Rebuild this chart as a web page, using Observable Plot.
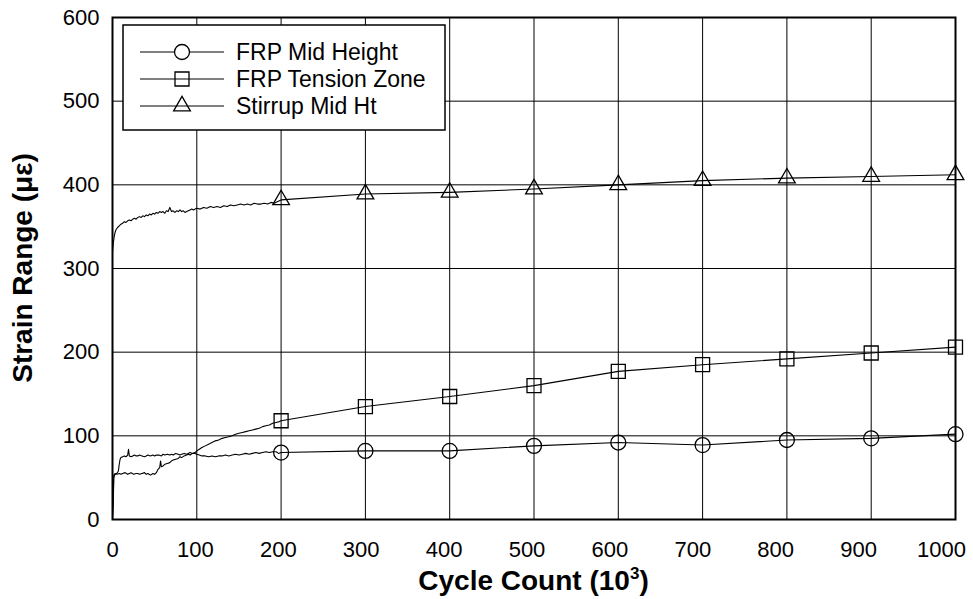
<!DOCTYPE html>
<html><head><meta charset="utf-8">
<script src="https://cdn.jsdelivr.net/npm/d3@7"></script>
<script src="https://cdn.jsdelivr.net/npm/@observablehq/plot@0.6"></script>
<style>body{margin:0;background:#fff} svg{display:block}</style>
</head><body><div id="chart"></div>
<script>
// ---------- data ----------
const seriesNames = ["FRP Mid Height", "FRP Tension Zone", "Stirrup Mid Ht"];
const markerCycles = [200, 300, 400, 500, 600, 700, 800, 900, 1000];
const frpMidMarkers = [80, 82, 82, 88, 92, 89, 95, 97, 102];
const frpTensionMarkers = [118, 135, 147, 160, 177, 185, 192, 199, 206];
const stirrupMarkers = [382, 389, 391, 395, 400, 405, 408, 410, 412];
const xTicks = [0, 100, 200, 300, 400, 500, 600, 700, 800, 900, 1000];
const yTicks = [0, 100, 200, 300, 400, 500, 600];

// early continuous gauge records (0 - 200 thousand cycles)
const frpMidTraceX = [0, 1, 1.5, 3, 5, 7, 8, 9, 10, 12, 14, 16, 18, 19, 20, 22, 24, 26, 28, 30, 32, 35, 38, 40, 42, 45, 48, 50, 52, 55, 58, 60, 62, 65, 68, 70, 72, 75, 78, 80, 82, 85, 88, 90, 92, 95, 98, 100, 103, 106, 110, 114, 118, 122, 126, 130, 134, 138, 142, 146, 150, 154, 158, 162, 166, 170, 174, 178, 182, 186, 190, 194, 197];
const frpMidTraceY = [0, 25, 50, 54, 55, 58, 66, 72, 74, 75, 76, 75, 77, 84, 76, 75, 76, 77, 76, 76, 77, 76, 75, 76, 77, 76, 77, 76, 77, 77, 76, 78, 77, 78, 77, 78, 77, 79, 78, 77, 78, 79, 78, 79, 80, 79, 79, 78, 77, 76, 76, 75, 76, 75, 76, 76, 77, 76, 77, 78, 77, 78, 79, 78, 79, 80, 79, 80, 81, 80, 81, 81, 79];

const frpTensionTraceX = [0, 1, 1.5, 3, 5, 8, 10, 12, 15, 18, 20, 22, 25, 28, 30, 32, 35, 38, 40, 42, 45, 48, 50, 52, 54, 56, 57, 58, 60, 62, 65, 68, 70, 72, 75, 78, 80, 82, 85, 88, 90, 92, 95, 98, 100, 103, 106, 110, 114, 118, 122, 126, 130, 134, 138, 142, 146, 150, 154, 158, 162, 166, 170, 174, 178, 182, 186, 190, 194, 198];
const frpTensionTraceY = [0, 30, 53, 55, 54, 55, 54, 55, 56, 54, 55, 56, 54, 55, 55, 54, 55, 56, 54, 55, 53, 55, 54, 56, 60, 62, 70, 63, 64, 66, 67, 68, 70, 71, 72, 73, 75, 74, 76, 77, 78, 77, 79, 80, 82, 84, 86, 88, 90, 92, 94, 95, 97, 98, 99, 100, 102, 103, 104, 105, 106, 107, 108, 109, 111, 112, 113, 115, 116, 117];

const stirrupTraceX = [0, 1, 2, 3, 4, 6, 8, 10, 12, 14, 16, 18, 20, 22, 24, 26, 28, 30, 32, 34, 36, 38, 40, 42, 44, 46, 48, 50, 52, 54, 56, 58, 60, 62, 64, 66, 68, 70, 72, 74, 76, 78, 80, 82, 84, 86, 88, 90, 92, 94, 96, 98, 100, 104, 108, 112, 116, 120, 124, 128, 132, 136, 140, 144, 148, 152, 156, 160, 164, 168, 172, 176, 180, 184, 188, 192, 196];
const stirrupTraceY = [320, 331, 338, 343, 346, 349, 351, 353, 354, 356, 355, 357, 358, 357, 359, 360, 359, 361, 362, 361, 363, 362, 364, 363, 365, 364, 366, 365, 367, 366, 368, 367, 368, 366, 369, 368, 373, 368, 369, 367, 369, 368, 370, 368, 369, 367, 368, 369, 370, 371, 370, 371, 372, 371, 373, 372, 374, 373, 374, 373, 375, 374, 376, 375, 376, 377, 376, 377, 376, 378, 377, 377, 378, 377, 379, 378, 380];

// ---------- build tables ----------
const traces = [
  [frpMidTraceX, frpMidTraceY, frpMidMarkers],
  [frpTensionTraceX, frpTensionTraceY, frpTensionMarkers],
  [stirrupTraceX, stirrupTraceY, stirrupMarkers]
];
const lineRows = [];
const markerRows = [];
traces.forEach(([tx, ty, my], i) => {
  tx.forEach((x, j) => lineRows.push({series: seriesNames[i], x, y: ty[j]}));
  markerCycles.forEach((x, j) => {
    lineRows.push({series: seriesNames[i], x, y: my[j]});
    markerRows.push({series: seriesNames[i], x, y: my[j]});
  });
});
const symbolFor = {"FRP Mid Height": "circle", "FRP Tension Zone": "square", "Stirrup Mid Ht": "triangle"};
const radiusFor = {"FRP Mid Height": 7.5, "FRP Tension Zone": 7.9, "Stirrup Mid Ht": 6.2};
const font = "'Liberation Sans', Arial, sans-serif";

const chart = Plot.plot({
  width: 973, height: 599,
  marginTop: 17, marginRight: 18, marginBottom: 80, marginLeft: 112,
  x: {domain: [0, 1000], axis: null},
  y: {domain: [0, 600], axis: null},
  style: {fontFamily: font, color: "#000", background: "#fff"},
  marks: [
    Plot.gridX(xTicks, {stroke: "#000", strokeOpacity: 1, strokeWidth: 1}),
    Plot.gridY(yTicks, {stroke: "#000", strokeOpacity: 1, strokeWidth: 1}),
    Plot.line(lineRows, {x: "x", y: "y", z: "series", stroke: "#000", strokeWidth: 1.1}),
    ...seriesNames.map(s => Plot.dot(markerRows.filter(d => d.series === s), {
      x: "x", y: "y", symbol: symbolFor[s], r: radiusFor[s], fill: "none", stroke: "#000", strokeWidth: 1.3
    })),
    Plot.frame({stroke: "#000", strokeWidth: 2}),
    // x tick labels (the original's labels sit on a slightly compressed spacing)
    Plot.text(xTicks, {x: d => d * 0.9834, frameAnchor: "bottom", lineAnchor: "top", dy: 22,
      text: d => String(d), fontSize: 22, fill: "#000"}),
    Plot.axisY(yTicks, {tickSize: 0, tickPadding: 13, fontSize: 22, label: null, tickFormat: d => String(d)})
  ]
});
document.getElementById("chart").appendChild(chart);

// ---------- titles and legend ----------
const svg = d3.select(chart);
const xt = svg.append("text").attr("x", 533.5).attr("y", 590).attr("text-anchor", "middle")
  .attr("font-family", font).attr("font-weight", "bold").attr("font-size", 28).attr("fill", "#000");
xt.append("tspan").text("Cycle Count (10");
xt.append("tspan").attr("font-size", 17).attr("dy", -11).text("3");
xt.append("tspan").attr("dy", 11).text(")");

svg.append("text").attr("transform", "translate(32,268) rotate(-90)").attr("text-anchor", "middle")
  .attr("font-family", font).attr("font-weight", "bold").attr("font-size", 28).attr("fill", "#000")
  .text("Strain Range (με)");

const lg = svg.append("g");
lg.append("rect").attr("x", 123).attr("y", 25).attr("width", 322).attr("height", 105)
  .attr("fill", "#fff").attr("stroke", "#000").attr("stroke-width", 1.5);
const d3sym = {circle: d3.symbolCircle, square: d3.symbolSquare, triangle: d3.symbolTriangle};
seriesNames.forEach((s, i) => {
  const y = 52 + i * 27;
  lg.append("line").attr("x1", 140).attr("x2", 224).attr("y1", y).attr("y2", y)
    .attr("stroke", "#000").attr("stroke-width", 1.1);
  const r = radiusFor[s];
  lg.append("path").attr("d", d3.symbol(d3sym[symbolFor[s]], Math.PI * r * r)())
    .attr("transform", `translate(182,${y})`).attr("fill", symbolFor[s] === "circle" ? "#fff" : "none")
    .attr("stroke", "#000").attr("stroke-width", 1.3);
  lg.append("text").attr("x", 236).attr("y", y).attr("dy", "0.35em").attr("text-anchor", "start")
    .attr("font-family", font).attr("font-size", 23).attr("fill", "#000").text(s);
});
</script>
</body></html>
